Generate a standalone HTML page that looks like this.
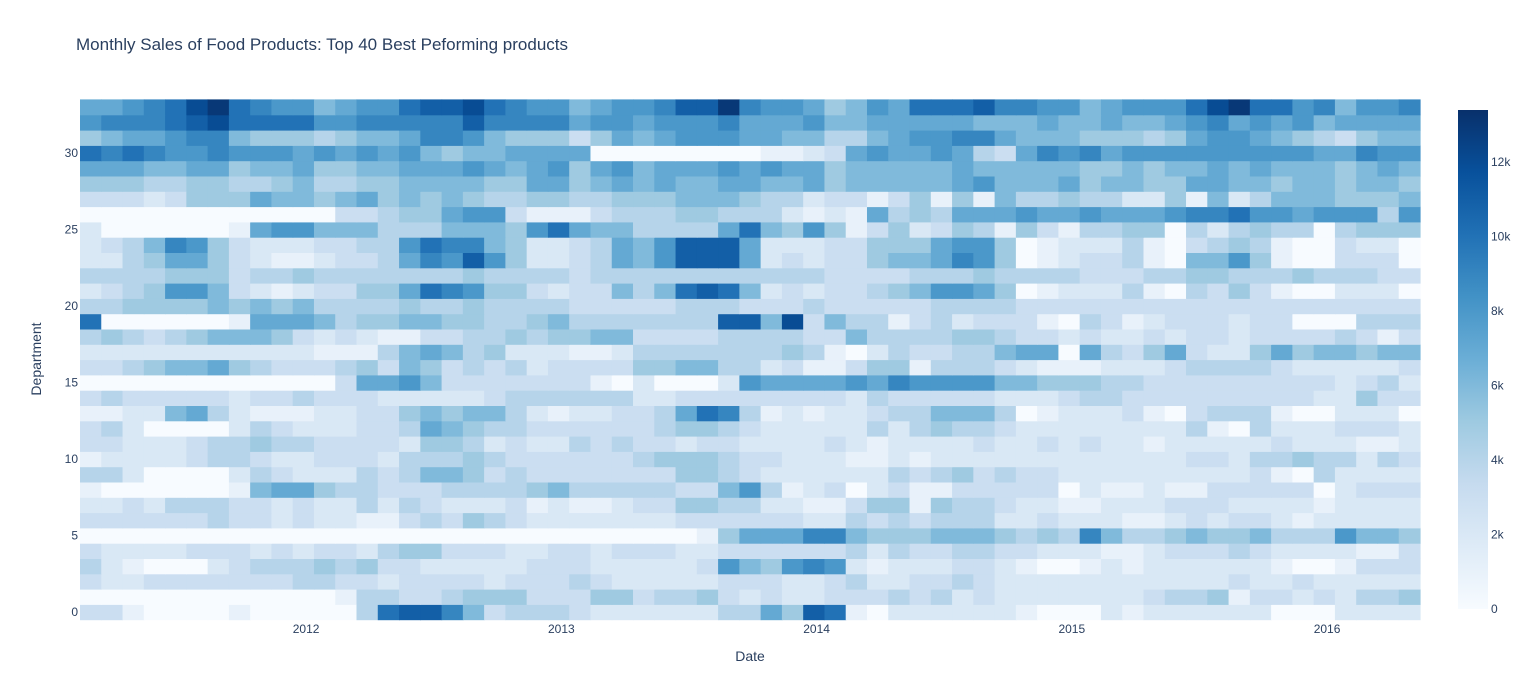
<!DOCTYPE html>
<html><head><meta charset="utf-8"><style>
html,body{margin:0;padding:0;background:#fff;}
svg{display:block;font-family:"Liberation Sans",Arial,sans-serif;}
</style></head><body>
<svg id="chart" width="1530" height="700" viewBox="0 0 1530 700">
<text x="76" y="50" font-size="17" fill="#2a3f5f">Monthly Sales of Food Products: Top 40 Best Peforming products</text>
<g id="cells"></g>
<g id="xticks"></g>
<g id="yticks"></g>
<text x="750" y="661" font-size="14" fill="#2a3f5f" text-anchor="middle">Date</text>
<text x="0" y="0" font-size="14" fill="#2a3f5f" text-anchor="middle" transform="translate(41,359) rotate(-90)">Department</text>
<defs><linearGradient id="cbgrad" x1="0" y1="1" x2="0" y2="0"></linearGradient></defs>
<rect x="1458" y="110" width="30" height="499" fill="url(#cbgrad)"/>
<g id="cbticks"></g>
</svg>
<script>
const years = [2012, 2013, 2014, 2015, 2016];
const yTicks = [0, 5, 10, 15, 20, 25, 30];
const cbTicks = [0, 2, 4, 6, 8, 10, 12];
const cbLabels = ["0", "2k", "4k", "6k", "8k", "10k", "12k"];
const zMax = 13.4;
// sales in thousands, rows = department 0..33, columns = 63 months
const z = [
[3,3,1,0,0,0,0,1,0,0,0,0,0,4,10,11,11,9,6,3,4,4,4,3,2,2,2,2,2,2,4,4,7,5,11,10,1,0,2,2,2,2,2,2,1,0,0,0,2,1,2,2,2,2,2,2,0,0,0,2,2,2,2],
[0,0,0,0,0,0,0,0,0,0,0,0,1,4,4,3,3,4,5,5,5,3,3,3,5,5,3,4,4,5,3,2,3,2,2,3,3,3,4,3,4,2,3,2,2,2,2,2,2,2,3,4,4,5,1,3,3,2,3,2,4,4,5],
[3,2,2,3,3,3,3,3,3,3,4,4,3,3,2,3,3,3,3,2,3,3,3,4,3,2,2,2,2,2,3,3,3,2,2,3,4,2,2,3,3,4,3,2,2,2,2,2,2,2,2,2,2,2,3,2,2,3,2,2,2,2,2],
[4,2,1,0,0,0,2,3,4,4,4,5,4,5,3,3,2,2,2,2,2,3,3,3,2,2,2,2,2,3,8,6,5,8,9,8,2,1,2,2,2,3,3,2,1,0,0,1,2,1,2,2,2,2,2,2,1,0,0,1,3,3,3],
[3,2,2,2,2,3,3,3,2,3,2,3,3,2,4,5,5,3,3,3,2,2,3,3,2,3,3,3,2,2,3,3,3,3,3,3,4,2,4,3,3,4,4,3,3,2,2,2,1,1,2,3,3,3,4,3,2,2,2,2,1,1,3],
[0,0,0,0,0,0,0,0,0,0,0,0,0,0,0,0,0,0,0,0,0,0,0,0,0,0,0,0,0,1,5,7,7,7,9,9,6,5,5,5,6,6,6,5,4,5,4,9,6,4,4,5,6,5,5,6,4,4,4,8,6,6,5],
[3,3,3,3,3,3,4,3,3,2,3,2,2,1,1,3,4,3,5,4,3,2,2,2,2,2,2,2,3,3,3,3,3,3,2,2,4,3,4,3,4,4,4,2,2,3,2,2,2,1,1,2,3,2,3,3,2,1,2,2,2,2,2],
[2,2,3,2,4,4,4,3,3,2,3,2,2,4,2,4,3,2,2,2,3,1,2,1,1,2,3,3,5,5,4,4,2,2,1,1,3,5,5,1,5,4,4,3,2,2,1,1,2,2,2,3,3,3,2,2,2,2,1,2,2,2,2],
[1,0,0,0,0,0,0,1,6,7,7,5,4,4,3,3,3,4,4,4,4,5,6,4,4,4,4,4,3,3,6,8,4,1,2,3,0,2,3,1,1,3,3,3,3,3,0,2,1,1,2,1,1,3,3,3,3,3,0,2,3,3,3],
[4,4,2,0,0,0,0,2,4,3,2,2,2,4,3,4,6,6,5,3,4,3,3,3,3,3,3,3,5,5,4,3,2,2,2,2,2,2,4,3,4,5,3,4,3,3,2,2,2,2,2,2,2,2,2,3,1,0,4,2,2,2,2],
[1,2,2,2,2,3,4,4,3,2,2,3,3,3,2,4,4,4,5,4,3,3,3,3,3,3,4,5,5,5,4,3,3,2,2,2,1,1,2,1,2,2,2,2,2,2,2,2,2,2,2,2,3,3,2,4,4,5,4,4,2,4,3],
[3,3,2,2,2,3,4,4,5,4,4,3,3,3,3,2,5,5,4,2,3,2,2,4,3,4,3,3,2,3,3,2,2,2,2,3,2,1,2,2,2,2,3,2,2,3,2,3,2,2,1,2,2,2,2,2,3,2,2,2,1,1,2],
[3,4,2,0,0,0,0,2,4,3,2,2,2,3,3,4,7,6,5,4,4,3,3,3,3,3,3,4,5,5,4,3,2,2,2,2,2,4,2,4,5,4,4,3,2,2,2,2,2,2,2,2,4,1,0,4,2,2,2,3,3,3,2],
[1,1,2,2,6,7,4,2,1,1,1,2,2,3,3,5,6,5,6,6,4,2,1,2,2,3,3,4,7,10,9,4,1,2,1,2,2,3,4,4,6,6,6,4,0,1,2,2,2,3,1,0,3,4,4,4,1,0,0,2,2,2,0],
[3,4,3,3,3,3,3,2,3,3,4,3,3,3,2,2,2,2,2,3,4,4,4,4,4,4,2,2,3,3,3,3,3,3,3,3,2,4,3,3,3,3,3,2,2,2,3,4,4,3,3,3,3,3,3,3,3,3,2,2,5,3,3],
[0,0,0,0,0,0,0,0,0,0,0,0,3,7,7,8,6,3,3,3,3,3,3,3,1,0,2,0,0,0,2,8,7,7,7,7,8,7,9,8,8,8,8,6,6,5,5,5,4,4,3,3,3,3,3,3,3,3,3,2,3,4,2],
[3,3,4,5,6,6,7,5,4,3,3,3,4,5,3,6,5,3,4,3,4,2,3,3,3,3,5,5,6,6,4,4,2,3,1,1,3,5,5,1,4,4,4,3,2,1,1,1,2,2,2,3,4,4,4,4,3,2,2,2,2,2,3],
[2,2,2,2,2,2,2,2,2,2,2,1,1,1,4,6,7,6,4,5,2,2,2,1,1,2,4,4,4,4,4,4,4,5,4,1,0,2,4,3,3,4,4,6,7,7,0,7,4,3,5,7,3,2,2,5,7,5,6,6,5,6,6],
[4,5,4,3,4,5,6,6,6,5,3,2,3,2,1,1,3,3,4,4,5,4,5,5,6,6,3,3,3,3,4,4,4,4,3,3,6,4,4,4,4,5,5,4,3,3,2,3,2,2,3,2,3,3,2,3,3,3,3,4,3,1,3],
[10,0,0,0,0,0,0,1,7,7,7,6,4,5,5,6,6,5,5,4,4,5,6,4,4,4,4,4,4,4,11,11,6,12,3,6,4,4,1,3,4,2,3,3,3,1,0,4,3,1,2,3,3,3,2,3,3,0,0,0,4,4,4],
[4,4,5,5,5,5,6,5,6,5,6,4,4,4,4,5,4,4,5,4,4,4,4,3,3,3,3,3,4,4,4,3,3,3,4,3,3,3,3,3,4,4,4,4,3,3,3,3,3,3,3,3,3,3,3,3,3,3,3,3,3,3,3],
[2,3,4,5,8,8,6,3,2,1,2,3,3,5,5,7,10,9,8,5,5,3,2,3,3,6,4,6,10,11,10,6,2,3,2,3,3,4,5,6,8,8,7,5,0,1,2,2,2,4,1,0,4,3,5,3,1,0,0,2,2,2,0],
[4,4,4,4,5,5,5,3,4,4,5,4,4,4,4,4,4,4,5,4,4,4,4,3,4,4,4,4,4,4,4,4,4,4,4,3,3,3,3,4,4,4,5,4,4,4,4,3,3,3,4,4,5,5,4,4,4,5,4,4,4,3,3],
[2,2,4,5,7,7,5,3,2,1,1,2,3,3,4,7,9,8,11,8,5,2,2,3,4,7,6,8,11,11,11,7,2,3,2,3,3,5,6,6,7,9,8,5,0,1,2,3,3,4,1,0,6,6,8,5,1,0,0,3,3,3,0],
[2,3,4,6,9,8,5,3,2,2,2,3,3,4,4,8,10,9,9,6,5,2,2,3,4,7,6,8,11,11,11,7,2,2,2,3,3,5,5,5,7,8,8,5,0,1,2,2,2,4,1,0,3,4,5,4,1,0,0,3,2,2,0],
[2,0,0,0,0,0,0,1,7,8,8,6,6,6,4,4,4,6,6,6,5,8,10,7,6,6,4,4,4,4,7,10,6,5,8,5,1,3,5,2,3,5,4,1,5,3,1,4,4,5,5,0,4,2,4,5,4,4,0,4,5,5,5],
[0,0,0,0,0,0,0,0,0,0,0,0,3,3,4,5,5,7,8,8,3,1,1,1,3,4,4,4,5,5,4,4,4,2,1,2,1,7,4,5,4,7,7,7,8,7,7,8,7,7,7,8,9,9,10,8,8,7,8,8,8,4,8],
[3,3,3,2,3,5,5,5,7,6,6,5,6,7,5,6,5,6,5,4,4,5,5,4,4,5,5,5,6,6,6,5,4,4,2,3,3,1,3,5,1,5,1,6,4,4,5,4,4,2,2,5,1,6,2,4,6,6,6,5,5,5,6],
[5,5,5,4,4,5,5,4,4,5,6,4,4,5,5,6,6,6,6,5,5,7,7,5,6,7,6,7,6,6,7,7,6,6,7,5,6,6,6,6,6,7,8,6,6,6,7,5,6,6,5,5,7,7,6,6,5,6,6,5,6,6,5],
[7,7,7,6,6,7,7,5,6,6,7,5,5,6,6,7,7,7,8,7,6,7,8,5,7,8,6,7,7,7,8,7,8,7,7,5,6,6,6,6,6,7,6,6,6,6,6,5,5,6,5,6,6,7,6,7,6,6,6,5,6,7,6],
[10,9,10,9,8,8,9,8,8,8,7,8,7,8,7,8,6,5,6,6,7,7,7,7,0,0,0,0,0,0,0,0,1,1,2,3,7,8,7,7,8,7,4,3,7,9,8,9,7,8,8,8,8,8,8,8,8,8,7,7,9,8,8],
[5,6,7,7,8,9,9,6,5,5,5,4,5,6,6,7,9,9,8,6,5,5,5,3,5,7,6,7,8,8,8,7,7,6,6,4,4,6,7,8,8,9,9,7,6,6,6,5,5,5,4,5,7,8,8,7,6,5,4,3,5,6,6],
[8,9,9,9,10,11,12,10,10,10,10,8,8,9,9,9,9,9,11,9,9,9,9,7,8,8,7,8,8,8,9,7,7,7,8,6,6,7,7,7,7,7,6,6,6,7,6,6,7,6,6,7,8,9,7,8,7,8,6,7,7,7,7],
[7,7,8,9,10,12,13,10,9,8,8,6,7,8,8,10,11,11,12,10,9,8,8,6,7,8,8,9,11,11,13,9,8,8,7,5,6,8,7,10,10,10,11,9,9,8,8,6,7,8,8,8,10,12,13,10,10,8,9,6,8,8,9]
];
const NS = "http://www.w3.org/2000/svg";
const X0 = 80, X1 = 1420, Y0 = 99.4, Y1 = 619.6;
const nCols = z[0].length, nRows = z.length;
const cw = (X1 - X0) / nCols, rh = (Y1 - Y0) / nRows;
function xPos(t) { return X0 + t * cw; }
function yPos(r) { return Y1 - r * rh; }
const stops = [[247,251,255],[222,235,247],[198,219,239],[158,202,225],[107,174,214],[66,146,198],[33,113,181],[8,81,156],[8,48,107]];
function color(v) {
  let t = Math.max(0, Math.min(1, v / zMax)) * (stops.length - 1);
  let i = Math.min(Math.floor(t), stops.length - 2), f = t - i;
  const a = stops[i], b = stops[i + 1];
  return "rgb(" + a.map((c, k) => Math.round(c + (b[k] - c) * f)).join(",") + ")";
}
const cells = document.getElementById("cells");
for (let r = 0; r < nRows; r++) {
  for (let c = 0; c < nCols; c++) {
    const rect = document.createElementNS(NS, "rect");
    rect.setAttribute("x", xPos(c));
    rect.setAttribute("y", yPos(r + 1));
    rect.setAttribute("width", cw + 0.6);
    rect.setAttribute("height", rh + 0.6);
    rect.setAttribute("fill", color(z[r][c]));
    
    
    cells.appendChild(rect);
  }
}
const xt = document.getElementById("xticks");
years.forEach(y => {
  const t = document.createElementNS(NS, "text");
  t.setAttribute("x", xPos((y - 2012) * 12 + 10.63));
  t.setAttribute("y", 633);
  t.setAttribute("font-size", "12");
  t.setAttribute("fill", "#2a3f5f");
  t.setAttribute("text-anchor", "middle");
  
  
  t.textContent = y;
  xt.appendChild(t);
});
const yt = document.getElementById("yticks");
yTicks.forEach(v => {
  const t = document.createElementNS(NS, "text");
  t.setAttribute("x", 78);
  t.setAttribute("y", yPos(v + 0.5) + 4);
  t.setAttribute("font-size", "12");
  t.setAttribute("fill", "#2a3f5f");
  t.setAttribute("text-anchor", "end");
  
  
  t.textContent = v;
  yt.appendChild(t);
});
const grad = document.getElementById("cbgrad");
stops.forEach((s, i) => {
  const st = document.createElementNS(NS, "stop");
  st.setAttribute("offset", (i / (stops.length - 1)));
  st.setAttribute("stop-color", "rgb(" + s.join(",") + ")");
  grad.appendChild(st);
});
const cbt = document.getElementById("cbticks");
cbTicks.forEach((v, i) => {
  const t = document.createElementNS(NS, "text");
  t.setAttribute("x", 1491);
  t.setAttribute("y", 609 - v / zMax * 499 + 4);
  t.setAttribute("font-size", "12");
  t.setAttribute("fill", "#2a3f5f");
  
  
  t.textContent = cbLabels[i];
  cbt.appendChild(t);
});
</script>
</body></html>
